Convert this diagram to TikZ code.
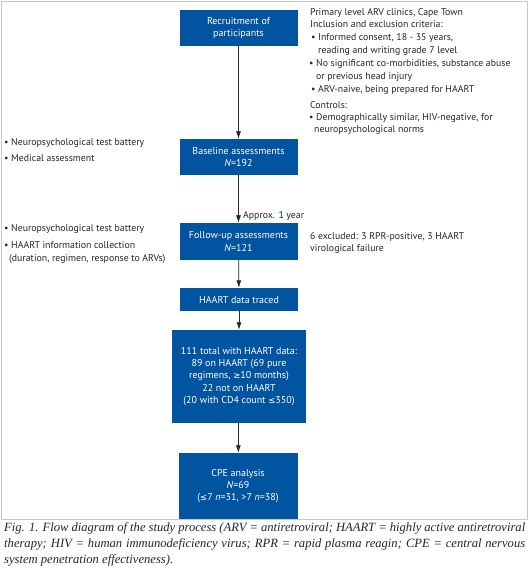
\documentclass[tikz,border=0pt]{standalone}
\usepackage{fontspec}
\setmainfont{PT Sans}
\newfontfamily\capfont{Liberation Serif}
\newfontfamily\symfont{DejaVu Sans}
\newcommand{\myle}{{\symfont\fontsize{8.5}{12}\selectfont ≤}}
\newcommand{\myge}{{\symfont\fontsize{8.5}{12}\selectfont ≥}}
\usetikzlibrary{arrows.meta}
\definecolor{boxblue}{RGB}{0,84,160}
\definecolor{framegrey}{RGB}{200,200,200}
\begin{document}
\begin{tikzpicture}[x=1pt,y=-1pt,
  bluebox/.style={fill=boxblue,draw=none,text=white,align=center,inner sep=0pt,
    font=\fontsize{10}{12.2}\selectfont},
  sidetext/.style={anchor=mid west,inner sep=0pt,font=\fontsize{9.8}{12}\selectfont,text=black!85},
  flowarrow/.style={-{Latex[length=7.5pt,width=5pt]},line width=0.8pt,black!85}]
\useasboundingbox (0,0) rectangle (530,574);
\fill[white] (0,0) rectangle (530,574);
\draw[framegrey,line width=1pt] (1,1) rectangle (527,519);

\node[bluebox,minimum width=118pt,minimum height=36pt] (rec) at (238.5,28) {Recruitment of\\participants};
\node[bluebox,minimum width=118pt,minimum height=36pt] (base) at (238.5,157) {Baseline assessments\\\textit{N}=192};
\node[bluebox,minimum width=118pt,minimum height=37pt] (fu) at (238.5,241.5) {Follow-up assessments\\\textit{N}=121};
\node[bluebox,minimum width=118pt,minimum height=23pt] (traced) at (239,299.5) {HAART data traced};
\node[bluebox,minimum width=134pt,minimum height=93pt] (total) at (239,376.5) {111 total with HAART data:\\89 on HAART (69 pure\\regimens, \myge10 months)\\22 not on HAART\\(20 with CD4 count \myle350)};
\node[bluebox,minimum width=119pt,minimum height=66pt] (cpe) at (238,486) {CPE analysis\\\textit{N}=69\\(\myle7 \textit{n}=31, >7 \textit{n}=38)};

\draw[flowarrow] (rec) -- (base);
\draw[flowarrow] (base) -- (fu);
\draw[flowarrow] (fu) -- (traced);
\draw[flowarrow] (traced) -- (total);
\draw[flowarrow] (total) -- (cpe);

% right texts
\node[sidetext] (r1) at (310,13) {Primary level ARV clinics, Cape Town};
\node[sidetext] (r2) at (310,25) {Inclusion and exclusion criteria:};
\node[sidetext] (r3) at (311,38) {• Informed consent, 18 - 35 years,};
\node[sidetext] (r4) at (318,51) {reading and writing grade 7 level};
\node[sidetext] (r5) at (309,64) {• No significant co-morbidities, substance abuse};
\node[sidetext] (r6) at (316,77) {or previous head injury};
\node[sidetext] (r7) at (311,90) {• ARV-naive, being prepared for HAART};
\node[sidetext] (r8) at (310,106) {Controls:};
\node[sidetext] (r9) at (309,118) {• Demographically similar, HIV-negative, for};
\node[sidetext] (r10) at (314,130) {neuropsychological norms};

% left texts
\node[sidetext] (l1) at (4,143) {• Neuropsychological test battery};
\node[sidetext] (l2) at (4,159) {• Medical assessment};
\node[sidetext] (l3) at (4,229) {• Neuropsychological test battery};
\node[sidetext] (l4) at (4,246) {• HAART information collection};
\node[sidetext] (l5) at (9,259) {(duration, regimen, response to ARVs)};

\node[sidetext] (approx) at (243,216) {Approx. 1 year};
\node[sidetext] (ex1) at (310,237) {6 excluded: 3 RPR-positive, 3 HAART};
\node[sidetext] (ex2) at (310,249) {virological failure};

\node[anchor=north west,inner sep=0pt,text width=521pt,align=justify,
  font=\capfont\itshape\fontsize{12.6}{16}\selectfont,text=black!85] (cap) at (4,522)
  {Fig. 1. Flow diagram of the study process (ARV = antiretroviral; HAART = highly active antiretroviral\linebreak therapy; HIV = human immunodeficiency virus; RPR = rapid plasma reagin; CPE = central nervous\linebreak system penetration effectiveness).};
\end{tikzpicture}
\end{document}
